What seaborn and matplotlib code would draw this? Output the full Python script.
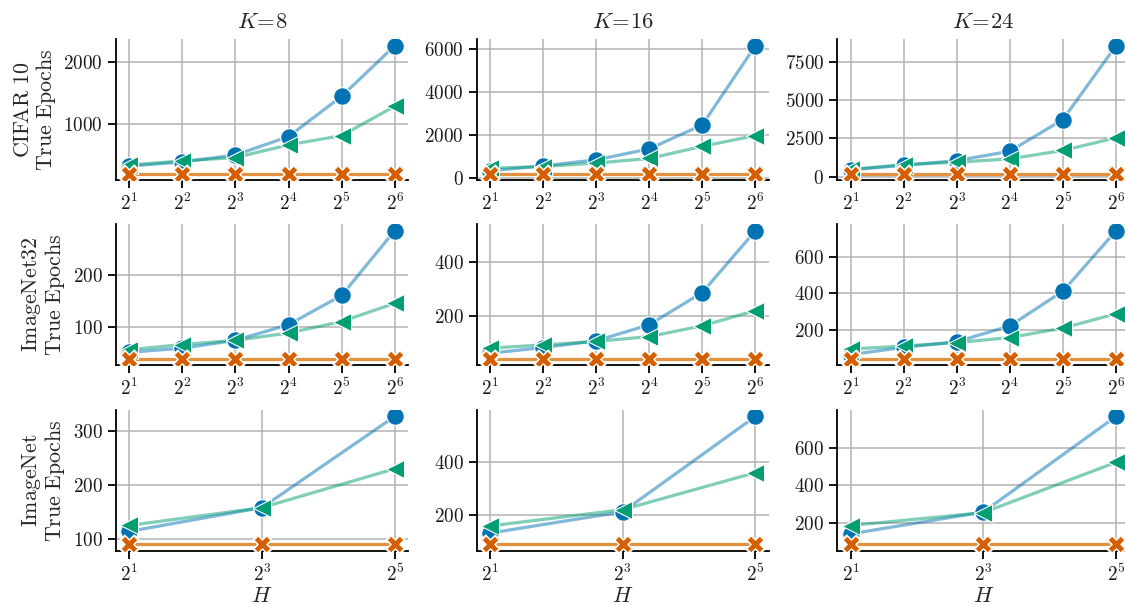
import numpy as np
import pandas as pd
import matplotlib
matplotlib.use("Agg")
import matplotlib.pyplot as plt
from matplotlib.ticker import NullLocator
import seaborn as sns

# ---------------- data ----------------
datasets = ["CIFAR 10", "ImageNet32", "ImageNet"]
Ks = [8, 16, 24]
H_full = [2, 4, 8, 16, 32, 64]
H_short = [2, 8, 32]
methods = ["m_circle", "m_triangle", "m_orange", "m_x"]

# CIFAR 10
cifar_circle = {8: [320, 390, 500, 800, 1450, 2270],
                16: [330, 560, 840, 1350, 2470, 6150],
                24: [450, 740, 1050, 1660, 3730, 8550]}
cifar_triangle = {8: [340, 405, 460, 665, 815, 1290],
                  16: [450, 530, 690, 905, 1470, 1970],
                  24: [470, 790, 940, 1165, 1710, 2540]}
cifar_flat = [200, 200, 200, 200, 200, 200]

# ImageNet32
in32_circle = {8: [52, 60, 75, 105, 161, 285],
               16: [60, 81, 106, 166, 286, 516],
               24: [62, 102, 133, 220, 411, 744]}
in32_triangle = {8: [57, 67, 75, 89, 111, 146],
                 16: [79, 91, 104, 122, 162, 219],
                 24: [93, 109, 128, 156, 208, 287]}
in32_flat = [40, 40, 40, 40, 40, 40]

# ImageNet
in_circle = {8: [114, 158, 327],
             16: [132, 212, 570],
             24: [145, 260, 764]}
in_triangle = {8: [125, 158, 230],
               16: [159, 220, 359],
               24: [189, 257, 522]}
in_flat = [90, 90, 90]

# y tick values per (dataset, K)
yticks_map = {
    ("CIFAR 10", 8): [1000, 2000],
    ("CIFAR 10", 16): [0, 2000, 4000, 6000],
    ("CIFAR 10", 24): [0, 2500, 5000, 7500],
    ("ImageNet32", 8): [100, 200],
    ("ImageNet32", 16): [200, 400],
    ("ImageNet32", 24): [200, 400, 600],
    ("ImageNet", 8): [100, 200, 300],
    ("ImageNet", 16): [200, 400],
    ("ImageNet", 24): [200, 400, 600],
}

# ---------------- build long table ----------------
rows = []
series = {
    "CIFAR 10": (H_full, cifar_circle, cifar_triangle, cifar_flat),
    "ImageNet32": (H_full, in32_circle, in32_triangle, in32_flat),
    "ImageNet": (H_short, in_circle, in_triangle, in_flat),
}
for ds, (Hs, circ, tri, flat) in series.items():
    for K in Ks:
        for i, h in enumerate(Hs):
            rows.append((ds, K, h, "m_circle", circ[K][i]))
            rows.append((ds, K, h, "m_triangle", tri[K][i]))
            rows.append((ds, K, h, "m_orange", flat[i]))
            rows.append((ds, K, h, "m_x", flat[i]))
df = pd.DataFrame(rows, columns=["dataset", "K", "H", "method", "epochs"])

# ---------------- style ----------------
sns.set_theme(style="ticks", context="notebook")
plt.rcParams["mathtext.fontset"] = "cm"
plt.rcParams["font.family"] = ["DejaVu Serif", "DejaVu Sans"]

cb = sns.color_palette("colorblind")
colors = {"m_circle": cb[0], "m_triangle": cb[2], "m_orange": cb[1], "m_x": cb[3]}
mstyle = {"m_circle": ("o", 160), "m_triangle": ("<", 170),
          "m_orange": ("X", 190), "m_x": ("X", 150)}

fig = plt.figure(figsize=(11.25, 6.06), dpi=100)

W, Hpx = 1125.0, 606.0
col_left = [116, 476.7, 837.3]
row_bottom = [180, 365, 550.7]
ax_w, ax_h = 292.0, 140.7

TICK_FS = 13.8
LAB_FS = 15.8

label_tex = {"CIFAR 10": r"CIF\!AR\ 10", "ImageNet32": r"ImageNet32", "ImageNet": r"ImageNet"}

for r, ds in enumerate(datasets):
    for c, K in enumerate(Ks):
        ax = fig.add_axes([col_left[c] / W, 1 - row_bottom[r] / Hpx, ax_w / W, ax_h / Hpx])
        sub = df[(df.dataset == ds) & (df.K == K)]
        for m in methods:
            sm = sub[sub.method == m]
            sns.lineplot(data=sm, x="H", y="epochs", color=colors[m], alpha=0.5,
                         linewidth=2.3, ax=ax, legend=False, zorder=2)
            mk, s = mstyle[m]
            sns.scatterplot(data=sm, x="H", y="epochs", color=colors[m], marker=mk,
                            s=s, edgecolor="white", linewidth=0.8, ax=ax,
                            legend=False, zorder=3)
        ax.set_xscale("log", base=2)
        Hs = H_full if ds != "ImageNet" else H_short
        ax.set_xticks(Hs)
        ax.set_xticklabels([rf"$2^{{{int(np.log2(h))}}}$" for h in Hs], fontsize=TICK_FS)
        ax.xaxis.set_minor_locator(NullLocator())
        yt = yticks_map[(ds, K)]
        ax.set_yticks(yt)
        ax.set_yticklabels([rf"$\mathrm{{{t}}}$" for t in yt], fontsize=TICK_FS)
        ax.yaxis.set_minor_locator(NullLocator())
        ax.grid(True, color="#b3b3b3", linewidth=1.1)
        ax.set_axisbelow(True)
        for sp in ["left", "bottom"]:
            ax.spines[sp].set_color("black")
            ax.spines[sp].set_linewidth(1.3)
        ax.tick_params(axis="both", length=5.5, width=1.3, color="black",
                       labelcolor="#1a1a1a", pad=4)
        sns.despine(ax=ax)
        if r == 0:
            ax.set_title(rf"$K\!=\!{K}$", fontsize=LAB_FS + 0.5, pad=8)
        if c == 0:
            ax.set_ylabel(rf"$\mathrm{{{label_tex[ds]}}}$" + "\n" + r"$\mathrm{True\ Epochs}$",
                          fontsize=LAB_FS, linespacing=1.0)
        else:
            ax.set_ylabel("")
        if r == 2:
            ax.set_xlabel(r"$H$", fontsize=LAB_FS, labelpad=0)
        else:
            ax.set_xlabel("")

fig.savefig("out.png", dpi=100)
